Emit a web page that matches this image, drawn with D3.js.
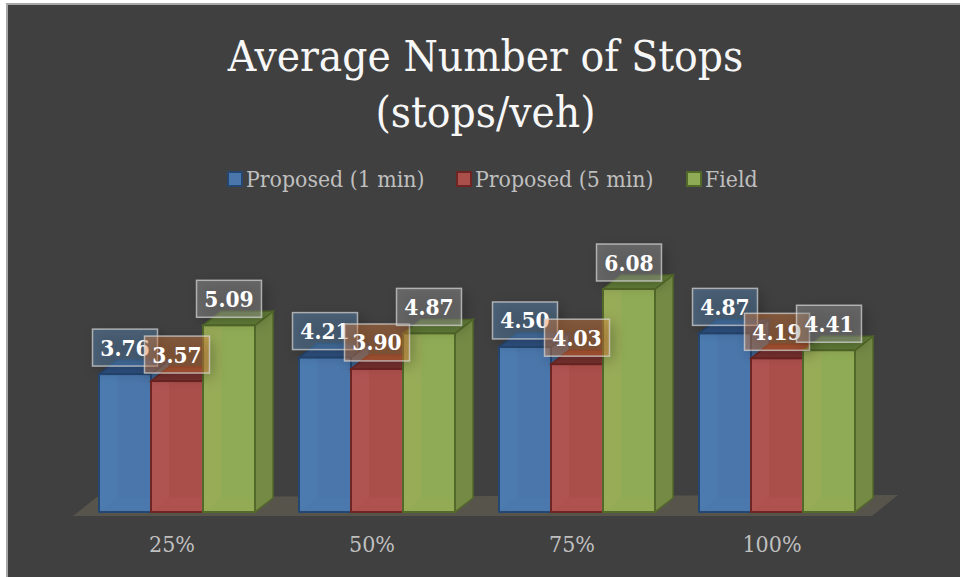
<!DOCTYPE html>
<html>
<head>
<meta charset="utf-8">
<script src="https://cdn.jsdelivr.net/npm/d3@7"></script>
<style>
  html, body { margin: 0; padding: 0; background: #404040; }
  svg { display: block; }
  text { font-family: "DejaVu Serif Condensed", "DejaVu Serif", serif; }
</style>
</head>
<body>
<div id="chart"></div>
<script>
const categories = ["25%", "50%", "75%", "100%"];
const seriesNames = ["Proposed (1 min)", "Proposed (5 min)", "Field"];
const proposed1 = [3.76, 4.21, 4.5, 4.87];
const proposed5 = [3.57, 3.9, 4.03, 4.19];
const field = [5.09, 4.87, 6.08, 4.41];
const seriesValues = [proposed1, proposed5, field];
const titleLines = ["Average Number of Stops", "(stops/veh)"];

const width = 960, height = 577;
const base = 512;
const depthX = 18, depthY = 14;

const colors = [
  { front: "#4a76ab", side: "#3f638f", top: "#2f5282", inner: "#4c7bb0", stroke: "#254670", label: "#659bcf" },
  { front: "#ab4f4b", side: "#8f4240", top: "#7a3230", inner: "#b05452", stroke: "#6e2523", label: "#f48a40" },
  { front: "#90ab55", side: "#748a45", top: "#647f39", inner: "#98ab57", stroke: "#53692a", label: "#aaaaaa" }
];

const svg = d3.select("#chart").append("svg").attr("width", width).attr("height", height);

const defs = svg.append("defs");
defs.append("filter").attr("id", "blur").attr("x", "-50%").attr("y", "-50%")
  .attr("width", "200%").attr("height", "200%")
  .append("feGaussianBlur").attr("stdDeviation", 7);

// page edge around the dark chart area
svg.append("rect").attr("width", width).attr("height", height).attr("fill", "#ffffff");
svg.append("rect").attr("x", 6).attr("y", 3).attr("width", width).attr("height", height).attr("fill", "#a8a8a8");
svg.append("rect").attr("x", 8).attr("y", 5).attr("width", width).attr("height", height).attr("fill", "#404040");

const x = d3.scaleBand().domain(categories).range([77, 877]);
const xInner = d3.scaleBand().domain(d3.range(3)).range([22, 178]);
const y = d3.scaleLinear().domain([0, 6.08]).range([base, 289]);

// floor
const floorLeft = x.range()[0], floorRight = x.range()[1];
svg.append("polygon")
  .attr("points", [
    [floorLeft - 4, base + 4], [floorLeft + 20, base - 15],
    [floorRight + 21, base - 17], [floorRight - 5, base + 4]
  ].join(" "))
  .attr("fill", "#57544b");

// title
svg.append("g").selectAll("text").data(titleLines).join("text")
  .attr("x", 485.5)
  .attr("y", (d, i) => 71 + i * 56)
  .attr("text-anchor", "middle")
  .attr("font-size", 43.8)
  .attr("fill", "#f7f7f7")
  .text((d) => d);

// legend
const legendX = [228, 457, 687];
const legend = svg.append("g").selectAll("g").data(seriesNames).join("g")
  .attr("transform", (d, i) => `translate(${legendX[i]},172)`);
legend.append("rect")
  .attr("width", 14).attr("height", 14)
  .attr("fill", (d, i) => colors[i].front)
  .attr("stroke", (d, i) => colors[i].stroke)
  .attr("stroke-width", 2);
legend.append("text")
  .attr("x", 18).attr("y", 15)
  .attr("font-size", 22.8)
  .attr("fill", "#bfbfbf")
  .text((d) => d);

// axis labels
const axis = svg.append("g")
  .attr("transform", "translate(-5,516)")
  .call(d3.axisBottom(x).tickSize(0).tickPadding(20));
axis.select(".domain").remove();
axis.selectAll("text")
  .attr("font-size", 23)
  .attr("fill", "#bfbfbf")
  .style("font-family", '"DejaVu Serif Condensed", "DejaVu Serif", serif');

// bars
const bars = [];
seriesValues.forEach((vals, s) => vals.forEach((v, c) => bars.push({ s, c, v })));

const barG = svg.append("g").selectAll("g").data(bars).join("g")
  .attr("transform", (d) => `translate(${x(categories[d.c]) + xInner(d.s)},0)`);

const bw = xInner.bandwidth();
const poly = (sel, fn) => sel.append("polygon").attr("points", (d) => fn(d).join(" "));

poly(barG, (d) => [[bw, y(d.v)], [bw + depthX, y(d.v) - depthY], [bw + depthX, base - depthY], [bw, base]])
  .attr("fill", (d) => colors[d.s].side)
  .attr("stroke", (d) => colors[d.s].stroke)
  .attr("stroke-width", 1.5);
poly(barG, (d) => [[0, y(d.v)], [depthX, y(d.v) - depthY], [bw + depthX, y(d.v) - depthY], [bw, y(d.v)]])
  .attr("fill", (d) => colors[d.s].top)
  .attr("stroke", (d) => colors[d.s].stroke)
  .attr("stroke-width", 1.5);
barG.append("rect")
  .attr("y", (d) => y(d.v))
  .attr("width", bw)
  .attr("height", (d) => base - y(d.v))
  .attr("fill", (d) => colors[d.s].front);
// inner left wall and floor seen through the front face
poly(barG, (d) => [[0, y(d.v)], [depthX, y(d.v)], [depthX, base - depthY], [0, base]])
  .attr("fill", (d) => colors[d.s].inner);
poly(barG, (d) => [[0, base], [depthX, base - depthY], [bw, base - depthY], [bw, base]])
  .attr("fill", (d) => colors[d.s].inner)
  .attr("fill-opacity", 0.6);
barG.append("rect")
  .attr("y", (d) => y(d.v))
  .attr("width", bw)
  .attr("height", (d) => base - y(d.v))
  .attr("fill", "none")
  .attr("stroke", (d) => colors[d.s].stroke)
  .attr("stroke-width", 2);

// data labels
const boxW = 65, boxH = 37;
const labelG = svg.append("g").selectAll("g").data(bars).join("g")
  .attr("transform", (d) => `translate(${x(categories[d.c]) + xInner(d.s) + bw / 2},${y(d.v) - 8 - boxH / 2})`);
labelG.append("rect")
  .attr("x", -boxW / 2 + 4).attr("y", -boxH / 2 + 4)
  .attr("width", boxW).attr("height", boxH)
  .attr("fill", "#000").attr("fill-opacity", 0.25)
  .attr("filter", "url(#blur)");
labelG.append("rect")
  .attr("x", -boxW / 2).attr("y", -boxH / 2)
  .attr("width", boxW).attr("height", boxH)
  .attr("fill", (d) => colors[d.s].label).attr("fill-opacity", 0.38)
  .attr("stroke", "#d9d9d9").attr("stroke-opacity", 0.7)
  .attr("stroke-width", 1.5);
labelG.append("text")
  .attr("y", 8)
  .attr("text-anchor", "middle")
  .attr("font-size", 22.5)
  .attr("font-weight", "bold")
  .attr("fill", "#ffffff")
  .text((d) => d.v.toFixed(2));
</script>
</body>
</html>
